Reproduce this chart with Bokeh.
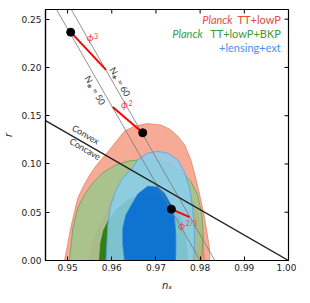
import math
from bokeh.plotting import figure
from bokeh.models import Range1d, FixedTicker, Label
from bokeh.embed import file_html
from bokeh.resources import INLINE

# ---- data ----
red95_ns = [0.9493, 0.9500, 0.9507, 0.9516, 0.9523, 0.9536, 0.9550, 0.9564, 0.9579, 0.9595, 0.9607,
            0.9629, 0.9652, 0.9681, 0.9711, 0.9731, 0.9749, 0.9765, 0.9779, 0.9790, 0.9799, 0.9808,
            0.9815, 0.9821, 0.9822]
red95_r = [0.0, 0.0160, 0.0336, 0.0512, 0.0647, 0.0771, 0.0885, 0.0978, 0.1061, 0.1144, 0.1216,
           0.1341, 0.1392, 0.1418, 0.1403, 0.1361, 0.1289, 0.1196, 0.1040, 0.0854, 0.0678, 0.0492,
           0.0305, 0.0129, 0.0]

red68_ns = [0.9549, 0.9559, 0.9570, 0.9584, 0.9602, 0.9625, 0.9659, 0.9693, 0.9726, 0.9754, 0.9776,
            0.9794, 0.9806, 0.9810]
red68_r = [0.0, 0.0181, 0.0336, 0.0461, 0.0647, 0.0802, 0.0937, 0.0989, 0.0958, 0.0854, 0.0699,
           0.0492, 0.0233, 0.0]

green95_ns = [0.9504, 0.9508, 0.9512, 0.9523, 0.9538, 0.9557, 0.9579, 0.9610, 0.9640, 0.9666, 0.9696,
              0.9727, 0.9757, 0.9779, 0.9794, 0.9804, 0.9807, 0.9803]
green95_r = [0.0, 0.0164, 0.0336, 0.0543, 0.0681, 0.0802, 0.0906, 0.0992, 0.1033, 0.1043, 0.1043,
             0.1009, 0.0923, 0.0820, 0.0681, 0.0474, 0.0267, 0.0]

green68_ns = [0.9572, 0.9575, 0.9582, 0.9591, 0.9609, 0.9636, 0.9670, 0.9704, 0.9731, 0.9754, 0.9767, 0.9772]
green68_r = [0.0, 0.0181, 0.0316, 0.0399, 0.0523, 0.0626, 0.0688, 0.0678, 0.0606, 0.0461, 0.0233, 0.0]

blue95_ns = [0.9587, 0.9589, 0.9591, 0.9598, 0.9610, 0.9625, 0.9647, 0.9659, 0.9681, 0.9704, 0.9726,
             0.9749, 0.9764, 0.9776, 0.9783, 0.9787, 0.9787, 0.9785]
blue95_r = [0.0, 0.0181, 0.0371, 0.0578, 0.0733, 0.0854, 0.0958, 0.1043, 0.1113, 0.1130, 0.1113,
            0.1043, 0.0923, 0.0751, 0.0543, 0.0336, 0.0098, 0.0]

blue68_ns = [0.9629, 0.9625, 0.9625, 0.9632, 0.9647, 0.9659, 0.9681, 0.9704, 0.9719, 0.9734, 0.9742,
             0.9745, 0.9745, 0.9744]
blue68_r = [0.0, 0.0164, 0.0336, 0.0474, 0.0595, 0.0688, 0.0768, 0.0761, 0.0699, 0.0578, 0.0440,
            0.0267, 0.0095, 0.0]

n50_ns = [0.9475, 0.9800]
n50_r = [0.26, 0.0]
n60_ns = [0.95083, 0.98333]
n60_r = [0.26, 0.0]

convex_ns = [0.945, 1.0]
convex_r = [0.145, 0.0]

phi3_ns = [0.9507, 0.9587]
phi3_r = [0.2365, 0.1975]
phi2_ns = [0.9602, 0.9670]
phi2_r = [0.1589, 0.1323]
phi23_ns = [0.9735, 0.9776]
phi23_r = [0.0532, 0.0450]
dots_ns = [0.9507, 0.9670, 0.9735]
dots_r = [0.2365, 0.1323, 0.0532]

x_ticks = [0.95, 0.96, 0.97, 0.98, 0.99, 1.00]
y_ticks = [0.00, 0.05, 0.10, 0.15, 0.20, 0.25]
X_MIN, X_MAX, Y_MIN, Y_MAX = 0.945, 1.0, 0.0, 0.26

# ---- figure ----
p = figure(frame_width=243, frame_height=251, x_range=Range1d(X_MIN, X_MAX), y_range=Range1d(Y_MIN, Y_MAX),
           output_backend="svg", toolbar_location=None,
           min_border_left=40, min_border_right=8, min_border_top=9, min_border_bottom=26)
p.grid.visible = False
p.outline_line_color = "black"
p.outline_line_width = 1.2
p.background_fill_color = "white"
p.border_fill_color = "white"

for ax in (p.xaxis[0], p.yaxis[0]):
    ax.major_tick_in = 4
    ax.major_tick_out = 0
    ax.minor_tick_line_color = None
    ax.axis_line_color = "black"
    ax.axis_line_width = 1.2
    ax.major_tick_line_width = 1
    ax.major_label_text_font = "DejaVu Sans"
    ax.major_label_text_font_size = "9px"
    ax.major_label_text_color = "#222222"
    ax.axis_label_text_font = "DejaVu Sans"
    ax.axis_label_text_font_style = "italic"
    ax.axis_label_text_font_size = "10px"
    ax.axis_label_text_color = "#222222"

p.xaxis[0].ticker = FixedTicker(ticks=x_ticks)
p.xaxis[0].major_label_overrides = {t: f"{t:.2f}" for t in x_ticks}
p.xaxis[0].major_label_standoff = 3
p.xaxis[0].axis_label = "nₛ"
p.xaxis[0].axis_label_standoff = 6

p.yaxis[0].ticker = FixedTicker(ticks=y_ticks)
p.yaxis[0].major_label_overrides = {t: f"{t:.2f}" for t in y_ticks}
p.yaxis[0].major_label_standoff = 4
p.yaxis[0].axis_label = "r"
p.yaxis[0].axis_label_standoff = 4

# ---- contours ----
p.patch(red95_ns, red95_r, fill_color="#f5ab95", fill_alpha=1.0, line_color="#e8806a", line_width=0.8)
p.patch(red68_ns, red68_r, fill_color="#f0937b", fill_alpha=1.0, line_color="#e8806a", line_width=0.8)
p.patch(green95_ns, green95_r, fill_color="#95c88a", fill_alpha=0.78, line_color="#5fa552", line_width=0.8)
p.patch(green68_ns, green68_r, fill_color="#2a7d12", fill_alpha=0.95, line_color="#2a7d12", line_width=0.8)
p.patch(blue95_ns, blue95_r, fill_color="#89cfee", fill_alpha=0.85, line_color="#5aa0e6", line_width=0.8)
p.patch(blue68_ns, blue68_r, fill_color="#0068d2", fill_alpha=0.88, line_color="#2a7fe0", line_width=0.8)

# ---- lines ----
p.line(n50_ns, n50_r, line_color="#777777", line_width=0.8)
p.line(n60_ns, n60_r, line_color="#777777", line_width=0.8)
p.line(convex_ns, convex_r, line_color="#222222", line_width=1.4)

for xs, ys in ((phi3_ns, phi3_r), (phi2_ns, phi2_r), (phi23_ns, phi23_r)):
    p.line(xs, ys, line_color="#ff0000", line_width=2)
p.scatter(dots_ns, dots_r, size=8, color="black")

# ---- inward ticks on top and right edges (half of each dash is clipped by the frame) ----
p.scatter(x_ticks, [Y_MAX] * len(x_ticks), marker="dash", size=8, angle=math.pi / 2,
          line_color="black", line_width=1)
p.scatter([X_MAX] * len(y_ticks), y_ticks, marker="dash", size=8, angle=0,
          line_color="black", line_width=1)

# ---- annotations ----
def lab(x, y, t, **kw):
    args = dict(text_font="Lato", text_font_size="10px", text_color="#333333")
    args.update(kw)
    p.add_layout(Label(x=x, y=y, text=t, **args))

lab(0.95411, 0.1307, "Convex", angle=-0.528, text_align="center", text_baseline="middle", text_font_size="9px")
lab(0.95400, 0.1157, "Concave", angle=-0.528, text_align="center", text_baseline="middle", text_font_size="9px")
lab(0.96191, 0.1852, "N⁎ = 60", angle=-1.051, text_align="center", text_baseline="middle", text_font_size="9px")
lab(0.95626, 0.1765, "N⁎ = 50", angle=-1.051, text_align="center", text_baseline="middle", text_font_size="9px")

phic = "#f04040"
lab(0.95433, 0.2248, "ϕ", text_color=phic, text_font_style="italic", text_font_size="10px")
lab(0.95600, 0.2295, "3", text_color=phic, text_font_size="7px")
lab(0.96209, 0.1555, "ϕ", text_color=phic, text_font_style="italic", text_font_size="10px")
lab(0.96380, 0.1600, "2", text_color=phic, text_font_size="7px")
lab(0.97506, 0.0303, "ϕ", text_color=phic, text_font_style="italic", text_font_size="10px")
lab(0.97676, 0.0345, "2/3", text_color=phic, text_font_size="7px")

lab(0.98734, 0.2424, "Planck", text_color="#e84a40", text_font_style="italic", text_align="right", text_font_size="11px")
lab(0.99826, 0.2424, "TT+lowP", text_color="#e84a40", text_align="right", text_font_size="11px")
lab(0.98056, 0.2279, "Planck", text_color="#3a9a3a", text_font_style="italic", text_align="right", text_font_size="11px")
lab(0.99826, 0.2279, "TT+lowP+BKP", text_color="#3a9a3a", text_align="right", text_font_size="11px")
lab(0.99826, 0.2140, "+lensing+ext", text_color="#4a8fe8", text_align="right", text_font_size="11px")

open("out.html", "w").write(file_html(p, INLINE))
